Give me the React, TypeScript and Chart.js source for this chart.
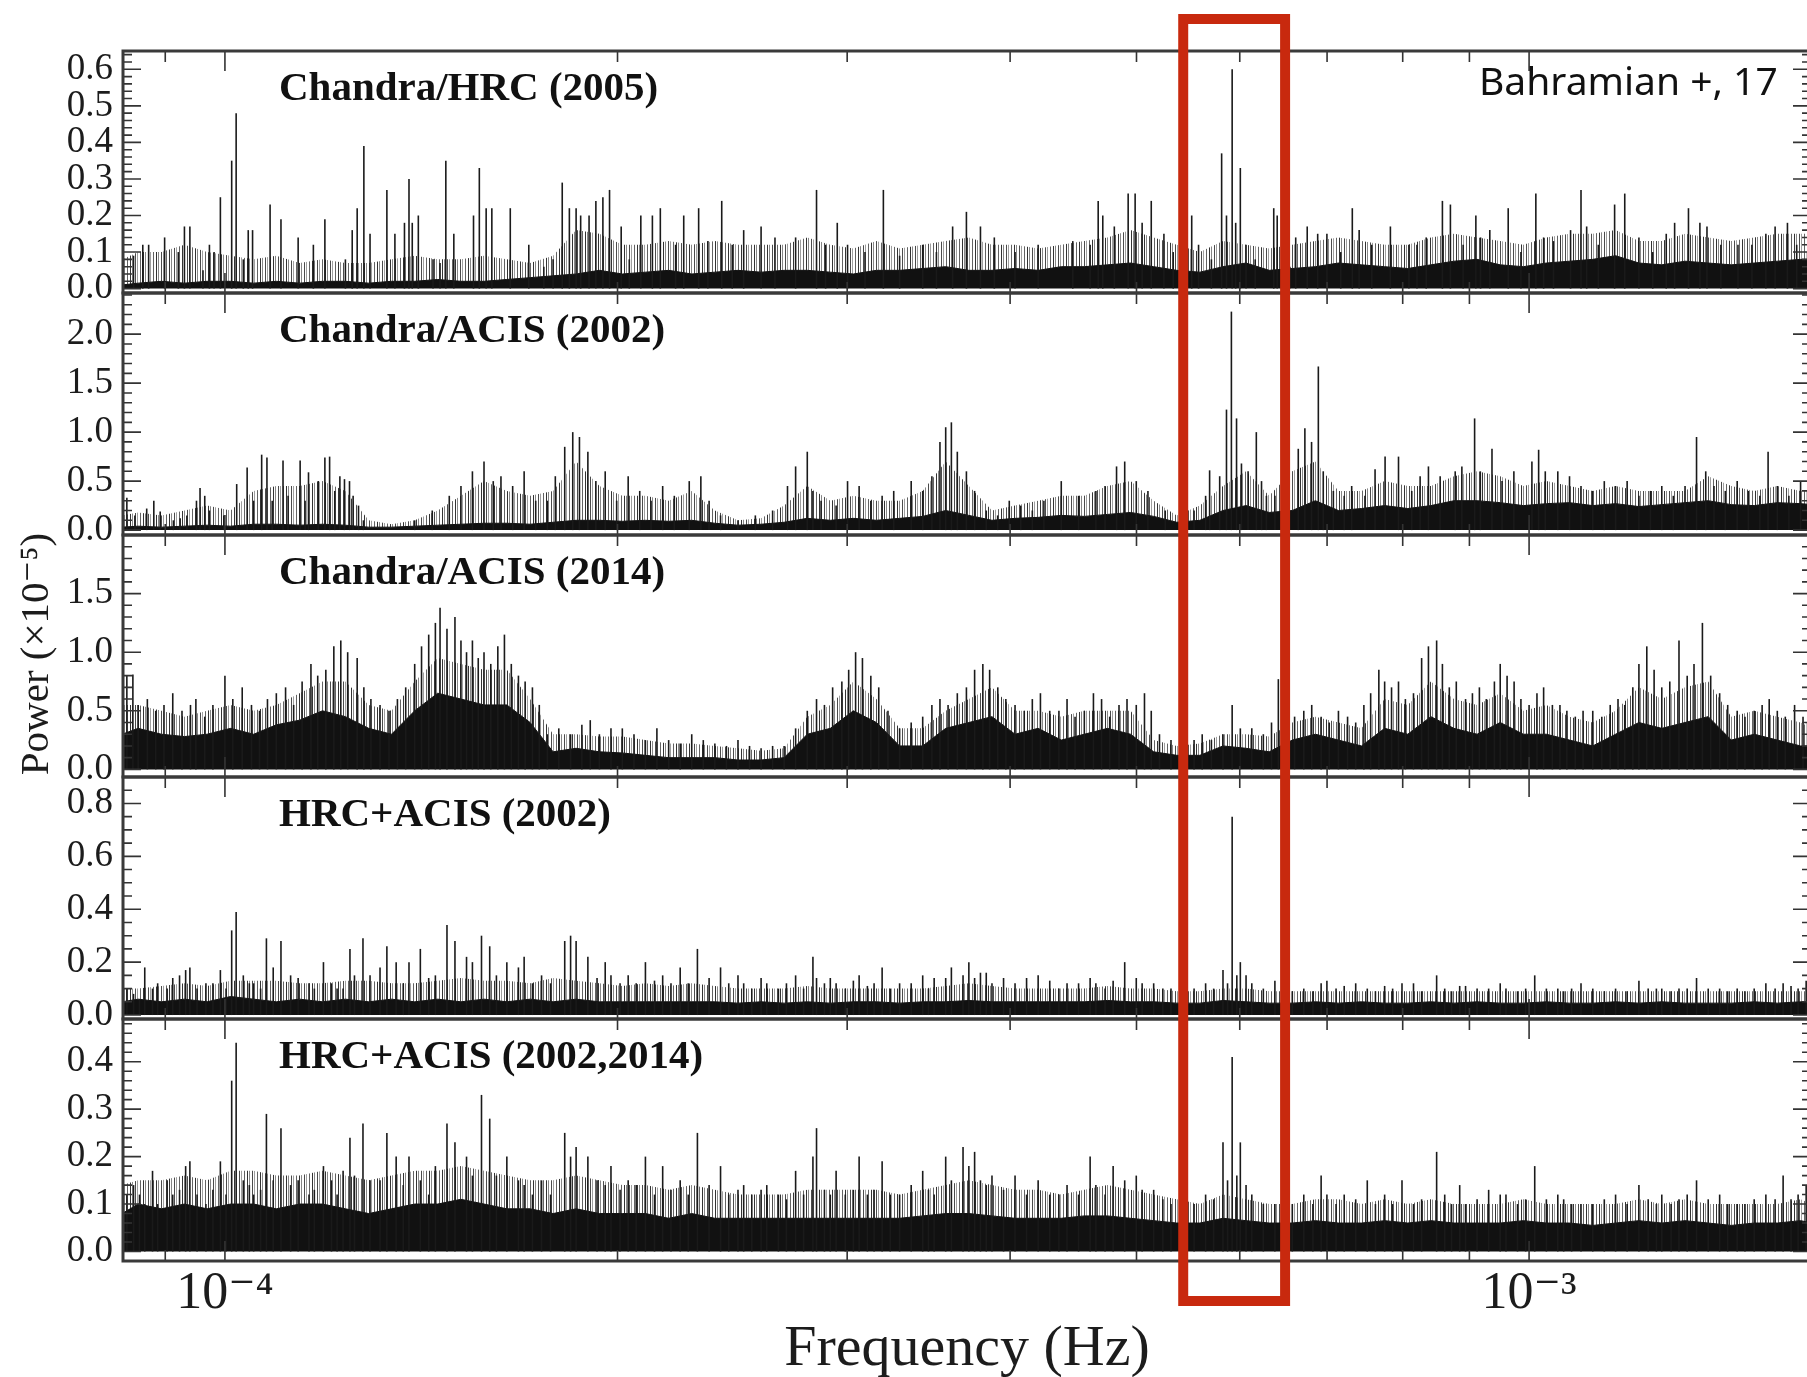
import React, { useEffect, useRef } from 'react';
import { Chart, registerables } from 'chart.js';

Chart.register(...registerables);

// Frequencies are in units of 1e-4 Hz, powers in units of 1e-5.
const FREQ_MIN = 0.8353;
const FREQ_MAX = 16.45;
const xMajorTicks = [1, 10];
const xMajorLabels = ['10⁻⁴', '10⁻³'];
const xMinorTicks = [0.9, 2, 3, 4, 5, 6, 7, 8, 9];

const panelIds = ['p1', 'p2', 'p3', 'p4', 'p5'];
const panelTitles = [
  'Chandra/HRC (2005)',
  'Chandra/ACIS (2002)',
  'Chandra/ACIS (2014)',
  'HRC+ACIS (2002)',
  'HRC+ACIS (2002,2014)',
];
const panelMin = [-0.012, -0.05, -0.065, -0.015, -0.02];
const panelMax = [0.65, 2.42, 2.0, 0.9, 0.49];
const panelMajorTicks = [
  [0, 0.1, 0.2, 0.3, 0.4, 0.5, 0.6],
  [0, 0.5, 1.0, 1.5, 2.0],
  [0, 0.5, 1.0, 1.5],
  [0, 0.2, 0.4, 0.6, 0.8],
  [0, 0.1, 0.2, 0.3, 0.4],
];
const panelMinorStep = [0.02, 0.1, 0.1, 0.05, 0.02];

// Frequency band marked around the 28-min signal
const highlightBand = [5.43, 6.5];

// Frequencies at which the envelopes of each periodogram are sampled
const floorFreq = [
  0.834, 0.858, 0.894, 0.931, 0.969, 1.010, 1.052, 1.095, 1.141, 1.188,
  1.237, 1.289, 1.342, 1.398, 1.456, 1.517, 1.580, 1.645, 1.714, 1.785,
  1.859, 1.937, 2.017, 2.101, 2.189, 2.280, 2.375, 2.474, 2.577, 2.684,
  2.796, 2.912, 3.033, 3.159, 3.291, 3.428, 3.570, 3.719, 3.874, 4.035,
  4.203, 4.378, 4.560, 4.750, 4.948, 5.154, 5.368, 5.592, 5.825, 6.067,
  6.320, 6.583, 6.857, 7.142, 7.439, 7.749, 8.072, 8.408, 8.758, 9.123,
  9.503, 9.899, 10.31, 10.74, 11.19, 11.65, 12.14, 12.64, 13.17, 13.72,
  14.29, 14.88, 15.50, 16.15, 16.48,
];

// ---- Chandra/HRC (2005)
const hrc05Floor = [
  0.01, 0.015, 0.02, 0.015, 0.02, 0.02, 0.015, 0.02, 0.015, 0.02,
  0.02, 0.015, 0.02, 0.02, 0.025, 0.02, 0.02, 0.025, 0.03, 0.035,
  0.04, 0.05, 0.04, 0.045, 0.05, 0.04, 0.045, 0.05, 0.045, 0.05,
  0.05, 0.045, 0.04, 0.05, 0.05, 0.055, 0.06, 0.05, 0.05, 0.055,
  0.05, 0.06, 0.06, 0.065, 0.07, 0.06, 0.05, 0.045, 0.06, 0.07,
  0.05, 0.055, 0.06, 0.07, 0.065, 0.06, 0.055, 0.065, 0.075, 0.08,
  0.065, 0.06, 0.07, 0.075, 0.08, 0.09, 0.07, 0.065, 0.075, 0.07,
  0.065, 0.07, 0.075, 0.08, 0.08,
];
const hrc05Band = [
  0.08, 0.10, 0.10, 0.12, 0.10, 0.09, 0.08, 0.09, 0.07, 0.08,
  0.07, 0.07, 0.08, 0.09, 0.08, 0.08, 0.09, 0.08, 0.07, 0.09,
  0.16, 0.15, 0.12, 0.12, 0.13, 0.12, 0.13, 0.12, 0.12, 0.12,
  0.14, 0.12, 0.11, 0.13, 0.11, 0.12, 0.13, 0.14, 0.12, 0.12,
  0.11, 0.12, 0.13, 0.14, 0.16, 0.14, 0.12, 0.10, 0.13, 0.12,
  0.11, 0.12, 0.13, 0.14, 0.13, 0.12, 0.12, 0.14, 0.15, 0.14,
  0.13, 0.12, 0.14, 0.15, 0.15, 0.16, 0.13, 0.13, 0.15, 0.14,
  0.13, 0.14, 0.15, 0.15, 0.15,
];
const hrc05SpikeFreq = [
  0.851, 0.865, 0.874, 0.899, 0.921, 0.931, 0.940, 0.962, 0.973, 0.981,
  0.992, 1.012, 1.020, 1.033, 1.042, 1.050, 1.083, 1.104, 1.138, 1.169,
  1.193, 1.237, 1.252, 1.263, 1.278, 1.292, 1.331, 1.350, 1.373, 1.384,
  1.392, 1.407, 1.444, 1.462, 1.477, 1.498, 1.551, 1.567, 1.586, 1.602,
  1.655, 1.710, 1.756, 1.785, 1.814, 1.837, 1.859, 1.874, 1.902, 1.925,
  1.949, 1.972, 2.013, 2.042, 2.084, 2.127, 2.157, 2.216, 2.248, 2.308,
  2.346, 2.404, 2.449, 2.499, 2.577, 2.641, 2.739, 2.842, 2.888, 2.948,
  3.002, 3.096, 3.198, 3.291, 3.428, 3.512, 3.614, 3.703, 3.796, 3.890,
  4.035, 4.203, 4.468, 4.607, 4.673, 4.711, 4.808, 4.927, 4.988, 5.050,
  5.132, 5.248, 5.335, 5.512, 5.579, 5.707, 5.811, 5.861, 5.920, 5.957,
  6.006, 6.067, 6.166, 6.371, 6.410, 6.555, 6.623, 6.759, 6.885, 6.998,
  7.171, 7.319, 7.408, 7.575, 7.828, 8.088, 8.204, 8.339, 8.581, 8.703,
  8.901, 9.103, 9.179, 9.330, 9.638, 9.857, 10.12, 10.26, 10.44, 10.76,
  10.96, 11.07, 11.30, 11.63, 11.84, 12.14, 12.44, 12.74, 12.93, 13.25,
  13.52, 13.69, 14.03, 14.46, 14.82, 15.19, 15.44, 15.78, 16.04, 16.35,
];
const hrc05SpikePower = [
  0.09, 0.12, 0.12, 0.14, 0.10, 0.17, 0.17, 0.05, 0.12, 0.10,
  0.25, 0.35, 0.48, 0.08, 0.16, 0.16, 0.23, 0.19, 0.14, 0.12,
  0.19, 0.08, 0.16, 0.22, 0.39, 0.15, 0.27, 0.15, 0.18, 0.30,
  0.18, 0.20, 0.08, 0.07, 0.35, 0.15, 0.20, 0.33, 0.22, 0.22,
  0.22, 0.12, 0.06, 0.08, 0.29, 0.22, 0.22, 0.20, 0.20, 0.24,
  0.25, 0.27, 0.17, 0.08, 0.20, 0.20, 0.22, 0.12, 0.20, 0.22,
  0.13, 0.24, 0.12, 0.16, 0.17, 0.14, 0.14, 0.27, 0.12, 0.18,
  0.12, 0.10, 0.27, 0.09, 0.12, 0.10, 0.17, 0.21, 0.17, 0.14,
  0.10, 0.12, 0.13, 0.12, 0.24, 0.20, 0.17, 0.26, 0.26, 0.18,
  0.24, 0.15, 0.10, 0.20, 0.12, 0.08, 0.37, 0.20, 0.60, 0.18,
  0.33, 0.12, 0.08, 0.22, 0.20, 0.06, 0.14, 0.17, 0.15, 0.15,
  0.10, 0.22, 0.16, 0.12, 0.17, 0.12, 0.12, 0.14, 0.24, 0.23,
  0.12, 0.20, 0.14, 0.16, 0.22, 0.10, 0.26, 0.14, 0.13, 0.16,
  0.27, 0.17, 0.12, 0.23, 0.26, 0.14, 0.10, 0.15, 0.18, 0.22,
  0.18, 0.17, 0.12, 0.12, 0.12, 0.15, 0.17, 0.18, 0.12, 0.10,
];

// ---- Chandra/ACIS (2002)
const acis02Floor = [
  0.03, 0.04, 0.03, 0.04, 0.05, 0.04, 0.06, 0.06, 0.05, 0.06,
  0.05, 0.03, 0.03, 0.04, 0.05, 0.06, 0.07, 0.07, 0.06, 0.08,
  0.10, 0.10, 0.09, 0.10, 0.09, 0.10, 0.07, 0.05, 0.06, 0.08,
  0.12, 0.10, 0.12, 0.10, 0.12, 0.14, 0.20, 0.15, 0.10, 0.12,
  0.13, 0.15, 0.14, 0.16, 0.18, 0.14, 0.08, 0.10, 0.20, 0.25,
  0.18, 0.20, 0.30, 0.20, 0.22, 0.25, 0.22, 0.25, 0.30, 0.30,
  0.28, 0.25, 0.27, 0.28, 0.25, 0.27, 0.24, 0.26, 0.28, 0.30,
  0.26, 0.25, 0.28, 0.27, 0.26,
];
const acis02Band = [
  0.15, 0.18, 0.15, 0.20, 0.25, 0.20, 0.40, 0.45, 0.45, 0.50,
  0.40, 0.10, 0.06, 0.10, 0.20, 0.35, 0.50, 0.40, 0.35, 0.40,
  0.70, 0.45, 0.35, 0.35, 0.30, 0.40, 0.20, 0.10, 0.12, 0.25,
  0.45, 0.30, 0.35, 0.30, 0.30, 0.40, 0.70, 0.45, 0.20, 0.25,
  0.30, 0.35, 0.35, 0.45, 0.50, 0.30, 0.15, 0.25, 0.45, 0.60,
  0.35, 0.60, 0.70, 0.40, 0.40, 0.50, 0.45, 0.45, 0.55, 0.60,
  0.55, 0.45, 0.50, 0.45, 0.40, 0.45, 0.40, 0.40, 0.40, 0.55,
  0.45, 0.40, 0.45, 0.40, 0.40,
];
const acis02SpikeFreq = [
  0.841, 0.853, 0.871, 0.882, 0.892, 0.913, 0.924, 0.935, 0.951, 0.957,
  0.965, 0.973, 0.998, 1.021, 1.040, 1.052, 1.067, 1.077, 1.087, 1.108,
  1.118, 1.142, 1.152, 1.159, 1.179, 1.193, 1.203, 1.214, 1.225, 1.235,
  1.246, 1.254, 1.266, 1.277, 1.398, 1.442, 1.486, 1.517, 1.548, 1.580,
  1.606, 1.628, 1.662, 1.696, 1.731, 1.767, 1.792, 1.822, 1.848, 1.870,
  1.898, 1.925, 1.957, 1.997, 2.038, 2.080, 2.122, 2.166, 2.211, 2.270,
  2.317, 2.351, 2.399, 2.474, 2.551, 2.630, 2.700, 2.739, 2.796, 2.824,
  2.865, 2.942, 3.002, 3.064, 3.128, 3.191, 3.257, 3.359, 3.428, 3.484,
  3.534, 3.570, 3.606, 3.644, 3.703, 3.757, 3.835, 3.913, 3.994, 4.076,
  4.160, 4.246, 4.378, 4.514, 4.654, 4.730, 4.827, 4.897, 4.998, 5.102,
  5.260, 5.423, 5.535, 5.649, 5.689, 5.791, 5.861, 5.912, 5.966, 6.018,
  6.089, 6.178, 6.235, 6.289, 6.384, 6.476, 6.653, 6.731, 6.811, 6.893,
  6.953, 7.078, 7.215, 7.311, 7.484, 7.619, 7.755, 7.941, 8.129, 8.250,
  8.372, 8.547, 8.777, 8.881, 9.083, 9.175, 9.366, 9.534, 9.735, 10.05,
  10.17, 10.29, 10.52, 10.74, 10.96, 11.19, 11.42, 11.65, 11.89, 12.14,
  12.39, 12.64, 12.90, 13.17, 13.44, 13.66, 13.86, 14.14, 14.44, 14.73,
  15.03, 15.25, 15.50, 15.82, 16.15, 16.35,
];
const acis02SpikePower = [
  0.33, 0.15, 0.22, 0.30, 0.19, 0.10, 0.12, 0.15, 0.30, 0.43,
  0.35, 0.20, 0.15, 0.47, 0.64, 0.30, 0.77, 0.74, 0.30, 0.71,
  0.35, 0.71, 0.30, 0.59, 0.50, 0.74, 0.75, 0.40, 0.55, 0.52,
  0.50, 0.35, 0.25, 0.10, 0.10, 0.20, 0.35, 0.45, 0.60, 0.70,
  0.50, 0.55, 0.45, 0.60, 0.30, 0.30, 0.55, 0.85, 1.00, 0.95,
  0.80, 0.50, 0.60, 0.30, 0.55, 0.40, 0.30, 0.45, 0.35, 0.50,
  0.55, 0.30, 0.15, 0.10, 0.15, 0.20, 0.45, 0.65, 0.80, 0.40,
  0.30, 0.25, 0.50, 0.45, 0.30, 0.35, 0.40, 0.50, 0.40, 0.55,
  0.90, 1.05, 1.10, 0.80, 0.60, 0.40, 0.20, 0.15, 0.30, 0.25,
  0.20, 0.30, 0.50, 0.35, 0.40, 0.45, 0.65, 0.70, 0.50, 0.40,
  0.20, 0.10, 0.20, 0.35, 0.61, 0.55, 1.23, 2.23, 1.14, 0.68,
  0.60, 1.00, 0.50, 0.35, 0.35, 0.30, 0.83, 1.04, 0.90, 1.67,
  0.60, 0.40, 0.35, 0.45, 0.35, 0.62, 0.75, 0.75, 0.40, 0.55,
  0.65, 0.55, 0.60, 0.65, 1.14, 0.60, 0.83, 0.50, 0.60, 0.70,
  0.82, 0.60, 0.60, 0.55, 0.45, 0.40, 0.50, 0.45, 0.50, 0.35,
  0.40, 0.45, 0.35, 0.45, 0.95, 0.60, 0.45, 0.40, 0.50, 0.40,
  0.35, 0.80, 0.45, 0.35, 0.50, 0.40,
];

// ---- Chandra/ACIS (2014)
const acis14Floor = [
  0.30, 0.35, 0.30, 0.28, 0.30, 0.35, 0.30, 0.38, 0.42, 0.50,
  0.45, 0.35, 0.30, 0.50, 0.65, 0.60, 0.55, 0.55, 0.40, 0.15,
  0.18, 0.15, 0.14, 0.12, 0.10, 0.10, 0.10, 0.08, 0.08, 0.10,
  0.30, 0.35, 0.50, 0.40, 0.20, 0.20, 0.35, 0.40, 0.45, 0.30,
  0.35, 0.25, 0.30, 0.35, 0.30, 0.15, 0.12, 0.12, 0.20, 0.18,
  0.15, 0.25, 0.30, 0.25, 0.20, 0.35, 0.30, 0.45, 0.35, 0.30,
  0.40, 0.30, 0.30, 0.25, 0.20, 0.30, 0.40, 0.35, 0.40, 0.45,
  0.25, 0.30, 0.25, 0.20, 0.20,
];
const acis14Band = [
  0.55, 0.55, 0.50, 0.45, 0.50, 0.55, 0.50, 0.55, 0.65, 0.75,
  0.75, 0.55, 0.50, 0.75, 0.95, 0.90, 0.85, 0.85, 0.60, 0.30,
  0.30, 0.28, 0.28, 0.25, 0.22, 0.22, 0.20, 0.18, 0.16, 0.18,
  0.45, 0.55, 0.75, 0.60, 0.35, 0.35, 0.50, 0.60, 0.70, 0.50,
  0.50, 0.45, 0.50, 0.50, 0.50, 0.25, 0.20, 0.22, 0.30, 0.30,
  0.28, 0.40, 0.45, 0.40, 0.35, 0.60, 0.55, 0.75, 0.60, 0.55,
  0.65, 0.50, 0.55, 0.45, 0.40, 0.50, 0.70, 0.60, 0.70, 0.75,
  0.45, 0.50, 0.45, 0.40, 0.35,
];
const acis14SpikeFreq = [
  0.841, 0.850, 0.858, 0.872, 0.885, 0.898, 0.912, 0.927, 0.941, 0.950,
  0.965, 0.979, 1.000, 1.014, 1.031, 1.048, 1.063, 1.078, 1.095, 1.113,
  1.129, 1.146, 1.164, 1.178, 1.195, 1.212, 1.227, 1.242, 1.263, 1.278,
  1.294, 1.315, 1.336, 1.356, 1.376, 1.398, 1.415, 1.433, 1.450, 1.462,
  1.480, 1.501, 1.517, 1.532, 1.548, 1.564, 1.580, 1.599, 1.619, 1.638,
  1.658, 1.679, 1.699, 1.721, 1.742, 1.767, 1.803, 1.841, 1.878, 1.906,
  1.937, 1.977, 2.017, 2.059, 2.101, 2.144, 2.189, 2.234, 2.280, 2.327,
  2.375, 2.424, 2.474, 2.525, 2.577, 2.630, 2.684, 2.739, 2.796, 2.842,
  2.882, 2.924, 2.972, 3.008, 3.045, 3.082, 3.128, 3.172, 3.224, 3.291,
  3.359, 3.428, 3.484, 3.534, 3.585, 3.644, 3.703, 3.757, 3.812, 3.858,
  3.914, 3.970, 4.035, 4.101, 4.160, 4.220, 4.290, 4.360, 4.423, 4.486,
  4.560, 4.634, 4.701, 4.769, 4.848, 4.917, 4.998, 5.071, 5.132, 5.207,
  5.314, 5.423, 5.535, 5.615, 5.707, 5.825, 5.920, 6.006, 6.129, 6.255,
  6.346, 6.423, 6.516, 6.610, 6.718, 6.813, 6.927, 7.027, 7.142, 7.258,
  7.363, 7.470, 7.560, 7.670, 7.749, 7.844, 7.941, 8.038, 8.154, 8.272,
  8.372, 8.494, 8.581, 8.686, 8.794, 8.939, 9.048, 9.160, 9.272, 9.406,
  9.503, 9.619, 9.739, 9.857, 10.00, 10.14, 10.26, 10.42, 10.56, 10.69,
  10.85, 11.00, 11.19, 11.37, 11.54, 11.70, 11.84, 12.01, 12.14, 12.31,
  12.47, 12.64, 12.82, 13.03, 13.22, 13.38, 13.58, 13.78, 14.00, 14.20,
  14.44, 14.64, 14.88, 15.09, 15.28, 15.50, 15.72, 15.98, 16.22, 16.35,
];
const acis14SpikePower = [
  0.80, 0.81, 0.55, 0.60, 0.50, 0.55, 0.65, 0.50, 0.55, 0.60,
  0.45, 0.55, 0.80, 0.60, 0.70, 0.55, 0.50, 0.60, 0.65, 0.70,
  0.55, 0.75, 0.90, 0.80, 0.85, 1.05, 1.10, 1.00, 0.95, 0.70,
  0.60, 0.55, 0.50, 0.60, 0.70, 0.90, 1.05, 1.15, 1.25, 1.38,
  1.20, 1.30, 1.10, 1.00, 1.10, 0.95, 1.00, 0.90, 1.05, 1.15,
  0.90, 0.80, 0.75, 0.70, 0.55, 0.30, 0.35, 0.30, 0.38, 0.42,
  0.30, 0.35, 0.35, 0.30, 0.25, 0.35, 0.25, 0.22, 0.30, 0.25,
  0.22, 0.20, 0.25, 0.20, 0.18, 0.20, 0.20, 0.35, 0.50, 0.60,
  0.55, 0.70, 0.75, 0.85, 1.00, 0.95, 0.80, 0.70, 0.50, 0.35,
  0.40, 0.45, 0.55, 0.60, 0.55, 0.65, 0.70, 0.85, 0.90, 0.85,
  0.70, 0.60, 0.55, 0.50, 0.60, 0.65, 0.50, 0.50, 0.60, 0.45,
  0.50, 0.65, 0.60, 0.45, 0.55, 0.60, 0.55, 0.65, 0.50, 0.30,
  0.25, 0.20, 0.25, 0.30, 0.25, 0.30, 0.55, 0.35, 0.35, 0.30,
  0.40, 0.77, 0.45, 0.45, 0.50, 0.55, 0.45, 0.40, 0.50, 0.45,
  0.40, 0.55, 0.65, 0.85, 0.75, 0.70, 0.75, 0.60, 0.65, 0.95,
  1.05, 1.10, 0.90, 0.70, 0.75, 0.60, 0.65, 0.70, 0.60, 0.75,
  0.90, 0.80, 0.75, 0.60, 0.55, 0.65, 0.70, 0.55, 0.55, 0.50,
  0.45, 0.50, 0.50, 0.45, 0.55, 0.60, 0.55, 0.70, 0.90, 1.05,
  0.85, 0.70, 0.75, 1.10, 0.80, 0.90, 1.25, 0.80, 0.65, 0.55,
  0.50, 0.45, 0.50, 0.55, 0.60, 0.50, 0.45, 0.55, 0.45, 0.40,
];

// ---- HRC+ACIS combined periodograms (same frequency sampling)
const hrcAcisSpikeFreq = [
  0.841, 0.851, 0.860, 0.868, 0.880, 0.888, 0.903, 0.912, 0.923, 0.933,
  0.940, 0.952, 0.967, 0.979, 0.992, 1.002, 1.012, 1.020, 1.033, 1.044,
  1.052, 1.065, 1.076, 1.089, 1.104, 1.123, 1.138, 1.160, 1.171, 1.190,
  1.207, 1.219, 1.232, 1.247, 1.257, 1.276, 1.292, 1.315, 1.331, 1.353,
  1.370, 1.384, 1.412, 1.433, 1.450, 1.480, 1.501, 1.532, 1.548, 1.573,
  1.596, 1.615, 1.645, 1.679, 1.696, 1.721, 1.749, 1.777, 1.822, 1.841,
  1.859, 1.898, 1.929, 1.957, 1.977, 2.009, 2.038, 2.067, 2.101, 2.135,
  2.166, 2.198, 2.234, 2.266, 2.303, 2.351, 2.399, 2.434, 2.474, 2.499,
  2.535, 2.577, 2.603, 2.657, 2.695, 2.739, 2.778, 2.824, 2.842, 2.882,
  2.912, 2.942, 2.990, 3.033, 3.064, 3.109, 3.146, 3.191, 3.237, 3.291,
  3.359, 3.428, 3.463, 3.498, 3.570, 3.606, 3.681, 3.719, 3.757, 3.796,
  3.835, 3.874, 3.954, 4.035, 4.118, 4.203, 4.290, 4.360, 4.423, 4.514,
  4.607, 4.654, 4.730, 4.798, 4.897, 4.998, 5.050, 5.154, 5.238, 5.314,
  5.423, 5.535, 5.649, 5.730, 5.825, 5.872, 5.920, 5.969, 6.006, 6.067,
  6.129, 6.255, 6.384, 6.476, 6.583, 6.718, 6.827, 6.927, 6.998, 7.112,
  7.215, 7.363, 7.515, 7.624, 7.749, 7.859, 7.990, 8.154, 8.272, 8.494,
  8.616, 8.721, 8.847, 8.939, 9.123, 9.311, 9.503, 9.600, 9.798, 9.940,
  10.10, 10.31, 10.52, 10.63, 10.78, 10.96, 11.19, 11.42, 11.65, 11.89,
  12.14, 12.34, 12.52, 12.64, 12.85, 13.03, 13.22, 13.44, 13.72, 14.00,
  14.20, 14.44, 14.64, 14.88, 15.19, 15.44, 15.66, 15.88, 16.08, 16.31,
];

// ---- HRC+ACIS (2002)
const hrcAcis02Floor = [
  0.05, 0.06, 0.05, 0.06, 0.05, 0.07, 0.06, 0.05, 0.06, 0.05,
  0.06, 0.05, 0.06, 0.05, 0.06, 0.05, 0.06, 0.05, 0.06, 0.05,
  0.06, 0.05, 0.05, 0.05, 0.05, 0.05, 0.05, 0.045, 0.05, 0.045,
  0.05, 0.045, 0.05, 0.05, 0.045, 0.05, 0.05, 0.055, 0.05, 0.05,
  0.05, 0.05, 0.05, 0.055, 0.05, 0.05, 0.045, 0.045, 0.055, 0.05,
  0.045, 0.045, 0.05, 0.045, 0.05, 0.045, 0.045, 0.05, 0.045, 0.05,
  0.045, 0.045, 0.05, 0.045, 0.045, 0.05, 0.045, 0.05, 0.045, 0.045,
  0.045, 0.05, 0.045, 0.05, 0.05,
];
const hrcAcis02Band = [
  0.10, 0.10, 0.11, 0.12, 0.11, 0.13, 0.13, 0.13, 0.12, 0.12,
  0.13, 0.13, 0.12, 0.12, 0.13, 0.14, 0.13, 0.13, 0.12, 0.14,
  0.13, 0.12, 0.11, 0.12, 0.11, 0.12, 0.11, 0.10, 0.10, 0.10,
  0.11, 0.10, 0.10, 0.10, 0.10, 0.10, 0.11, 0.12, 0.11, 0.10,
  0.10, 0.10, 0.10, 0.11, 0.10, 0.10, 0.09, 0.09, 0.10, 0.10,
  0.09, 0.09, 0.09, 0.09, 0.09, 0.09, 0.09, 0.09, 0.09, 0.09,
  0.09, 0.09, 0.09, 0.09, 0.09, 0.09, 0.09, 0.09, 0.09, 0.09,
  0.09, 0.09, 0.09, 0.09, 0.09,
];
const hrcAcis02SpikePower = [
  0.10, 0.08, 0.06, 0.18, 0.10, 0.12, 0.10, 0.14, 0.15, 0.17,
  0.18, 0.10, 0.12, 0.12, 0.17, 0.10, 0.32, 0.39, 0.15, 0.12,
  0.12, 0.10, 0.29, 0.18, 0.28, 0.15, 0.14, 0.12, 0.10, 0.20,
  0.12, 0.10, 0.10, 0.25, 0.15, 0.29, 0.15, 0.18, 0.26, 0.20,
  0.12, 0.20, 0.25, 0.14, 0.15, 0.34, 0.28, 0.22, 0.20, 0.30,
  0.26, 0.15, 0.20, 0.18, 0.22, 0.12, 0.15, 0.12, 0.28, 0.30,
  0.28, 0.22, 0.14, 0.20, 0.15, 0.12, 0.15, 0.12, 0.20, 0.13,
  0.15, 0.12, 0.18, 0.12, 0.25, 0.14, 0.18, 0.12, 0.15, 0.12,
  0.10, 0.14, 0.12, 0.10, 0.12, 0.15, 0.10, 0.22, 0.14, 0.12,
  0.14, 0.12, 0.10, 0.13, 0.15, 0.11, 0.12, 0.18, 0.10, 0.12,
  0.12, 0.15, 0.10, 0.14, 0.14, 0.18, 0.15, 0.20, 0.14, 0.16,
  0.16, 0.12, 0.14, 0.12, 0.14, 0.15, 0.13, 0.10, 0.12, 0.12,
  0.14, 0.12, 0.10, 0.13, 0.20, 0.14, 0.12, 0.12, 0.10, 0.10,
  0.08, 0.10, 0.12, 0.10, 0.17, 0.12, 0.75, 0.15, 0.20, 0.15,
  0.12, 0.10, 0.13, 0.10, 0.09, 0.10, 0.09, 0.12, 0.13, 0.10,
  0.11, 0.12, 0.10, 0.09, 0.11, 0.10, 0.12, 0.12, 0.09, 0.15,
  0.10, 0.09, 0.11, 0.11, 0.10, 0.10, 0.12, 0.10, 0.09, 0.10,
  0.15, 0.10, 0.10, 0.09, 0.10, 0.12, 0.10, 0.09, 0.10, 0.09,
  0.13, 0.10, 0.10, 0.10, 0.09, 0.10, 0.10, 0.14, 0.10, 0.10,
  0.09, 0.10, 0.09, 0.10, 0.12, 0.10, 0.12, 0.11, 0.10, 0.13,
];

// ---- HRC+ACIS (2002,2014)
const hrcAcis0214Floor = [
  0.08, 0.10, 0.09, 0.10, 0.09, 0.10, 0.10, 0.09, 0.10, 0.10,
  0.09, 0.08, 0.09, 0.10, 0.10, 0.11, 0.10, 0.09, 0.09, 0.08,
  0.09, 0.08, 0.08, 0.08, 0.07, 0.08, 0.07, 0.07, 0.07, 0.07,
  0.07, 0.07, 0.07, 0.07, 0.07, 0.075, 0.08, 0.08, 0.075, 0.07,
  0.07, 0.07, 0.075, 0.075, 0.07, 0.065, 0.06, 0.06, 0.07, 0.065,
  0.06, 0.06, 0.065, 0.06, 0.06, 0.065, 0.06, 0.065, 0.06, 0.06,
  0.06, 0.065, 0.06, 0.06, 0.055, 0.06, 0.065, 0.06, 0.065, 0.06,
  0.055, 0.06, 0.06, 0.065, 0.06,
];
const hrcAcis0214Band = [
  0.14, 0.15, 0.15, 0.16, 0.15, 0.17, 0.17, 0.16, 0.16, 0.17,
  0.16, 0.15, 0.16, 0.17, 0.17, 0.18, 0.17, 0.16, 0.15, 0.15,
  0.16, 0.15, 0.14, 0.14, 0.13, 0.14, 0.13, 0.12, 0.12, 0.12,
  0.13, 0.13, 0.13, 0.13, 0.12, 0.13, 0.14, 0.15, 0.14, 0.13,
  0.13, 0.12, 0.13, 0.14, 0.13, 0.12, 0.11, 0.10, 0.12, 0.11,
  0.10, 0.10, 0.11, 0.11, 0.10, 0.11, 0.10, 0.11, 0.10, 0.10,
  0.10, 0.11, 0.10, 0.10, 0.10, 0.10, 0.11, 0.10, 0.11, 0.10,
  0.10, 0.10, 0.10, 0.11, 0.10,
];
const hrcAcis0214SpikePower = [
  0.12, 0.14, 0.12, 0.10, 0.17, 0.10, 0.15, 0.12, 0.13, 0.18,
  0.19, 0.12, 0.10, 0.13, 0.19, 0.12, 0.36, 0.44, 0.15, 0.14,
  0.12, 0.13, 0.29, 0.15, 0.26, 0.14, 0.15, 0.12, 0.13, 0.18,
  0.15, 0.12, 0.17, 0.24, 0.16, 0.27, 0.15, 0.15, 0.25, 0.20,
  0.14, 0.20, 0.15, 0.12, 0.18, 0.27, 0.23, 0.20, 0.16, 0.33,
  0.28, 0.16, 0.20, 0.15, 0.14, 0.12, 0.15, 0.12, 0.25, 0.20,
  0.22, 0.20, 0.15, 0.14, 0.18, 0.13, 0.15, 0.14, 0.20, 0.12,
  0.18, 0.13, 0.15, 0.12, 0.25, 0.14, 0.18, 0.12, 0.13, 0.14,
  0.12, 0.13, 0.14, 0.12, 0.11, 0.17, 0.12, 0.20, 0.26, 0.13,
  0.12, 0.17, 0.12, 0.13, 0.20, 0.12, 0.13, 0.19, 0.12, 0.12,
  0.14, 0.17, 0.13, 0.12, 0.20, 0.15, 0.22, 0.18, 0.21, 0.15,
  0.14, 0.16, 0.13, 0.16, 0.12, 0.15, 0.12, 0.12, 0.14, 0.12,
  0.20, 0.14, 0.12, 0.18, 0.15, 0.16, 0.13, 0.13, 0.11, 0.10,
  0.09, 0.10, 0.12, 0.11, 0.23, 0.15, 0.41, 0.16, 0.23, 0.14,
  0.12, 0.10, 0.10, 0.09, 0.10, 0.12, 0.10, 0.16, 0.12, 0.10,
  0.12, 0.11, 0.15, 0.10, 0.12, 0.10, 0.15, 0.10, 0.11, 0.21,
  0.12, 0.10, 0.14, 0.10, 0.11, 0.13, 0.12, 0.12, 0.10, 0.11,
  0.18, 0.11, 0.12, 0.11, 0.10, 0.10, 0.10, 0.11, 0.12, 0.10,
  0.14, 0.11, 0.10, 0.12, 0.10, 0.11, 0.12, 0.15, 0.11, 0.12,
  0.10, 0.10, 0.10, 0.11, 0.12, 0.11, 0.16, 0.11, 0.12, 0.14,
];

const panelFloors = [hrc05Floor, acis02Floor, acis14Floor, hrcAcis02Floor, hrcAcis0214Floor];
const panelBands = [hrc05Band, acis02Band, acis14Band, hrcAcis02Band, hrcAcis0214Band];
const panelSpikeFreqs = [hrc05SpikeFreq, acis02SpikeFreq, acis14SpikeFreq, hrcAcisSpikeFreq, hrcAcisSpikeFreq];
const panelSpikePowers = [hrc05SpikePower, acis02SpikePower, acis14SpikePower, hrcAcis02SpikePower, hrcAcis0214SpikePower];

const SERIF = '"Liberation Serif", "DejaVu Serif", serif';
const INK = '#1c1c1c';

// Fine, slightly irregular vertical hatching for the band of densely packed peaks
function makeHatch(): CanvasPattern | string {
  const fallback = 'rgba(20,20,20,0.5)';
  const tile = document.createElement('canvas');
  tile.width = 13;
  tile.height = 4;
  const c = tile.getContext('2d');
  if (!c) return fallback;
  const cols: [number, number][] = [[0, 0.85], [2, 0.5], [5, 0.75], [7, 0.4], [10, 0.65]];
  cols.forEach(([x, a]) => {
    c.fillStyle = `rgba(15,15,15,${a})`;
    c.fillRect(x, 0, 1, 4);
  });
  return c.createPattern(tile, 'repeat') || fallback;
}

const panelDecor = {
  id: 'panelDecor',
  afterDraw(chart: any) {
    const { ctx, chartArea, scales } = chart;
    const xs = scales.x;
    const left = chartArea.left;
    const right = chartArea.right;
    ctx.save();
    panelIds.forEach((id, i) => {
      const ys = scales[id];
      const top = ys.top;
      const bottom = ys.bottom;
      ctx.strokeStyle = '#333';
      ctx.lineWidth = 1.6;
      ctx.beginPath();
      // y ticks, left and right, pointing inward
      const majors = panelMajorTicks[i];
      majors.forEach((v) => {
        const py = ys.getPixelForValue(v);
        ctx.moveTo(left, py); ctx.lineTo(left + 18, py);
        ctx.moveTo(right, py); ctx.lineTo(right - 18, py);
      });
      const step = panelMinorStep[i];
      const first = Math.ceil(panelMin[i] / step - 1e-6);
      const last = Math.floor(panelMax[i] / step + 1e-6);
      for (let k = first; k <= last; k++) {
        const v = k * step;
        if (majors.some((m) => Math.abs(m - v) < 1e-6)) continue;
        const py = ys.getPixelForValue(v);
        ctx.moveTo(left, py); ctx.lineTo(left + 9, py);
        ctx.moveTo(right, py); ctx.lineTo(right - 9, py);
      }
      // x ticks on the top and bottom edges of each panel
      xMajorTicks.forEach((v) => {
        const px = xs.getPixelForValue(v);
        ctx.moveTo(px, top); ctx.lineTo(px, top + 20);
        ctx.moveTo(px, bottom); ctx.lineTo(px, bottom - 20);
      });
      xMinorTicks.forEach((v) => {
        const px = xs.getPixelForValue(v);
        ctx.moveTo(px, top); ctx.lineTo(px, top + 11);
        ctx.moveTo(px, bottom); ctx.lineTo(px, bottom - 11);
      });
      ctx.stroke();
      // panel frame
      ctx.lineWidth = 3;
      ctx.strokeStyle = '#3a3a3a';
      ctx.strokeRect(left, top, right - left, bottom - top);
      // panel title
      ctx.fillStyle = '#111';
      ctx.font = `bold 41px ${SERIF}`;
      ctx.textAlign = 'left';
      ctx.textBaseline = 'middle';
      ctx.fillText(panelTitles[i], left + 156, top + 38);
    });

    // shared y-axis title
    ctx.save();
    ctx.translate(37, 654);
    ctx.rotate(-Math.PI / 2);
    ctx.font = `41px ${SERIF}`;
    ctx.fillStyle = INK;
    ctx.textAlign = 'center';
    ctx.textBaseline = 'middle';
    ctx.fillText('Power (×10⁻⁵)', 0, 0);
    ctx.restore();

    // reference note
    ctx.font = '39px "Noto Sans", sans-serif';
    ctx.fillStyle = '#111';
    ctx.textAlign = 'left';
    ctx.textBaseline = 'middle';
    ctx.fillText('Bahramian +, 17', 1479, 84);

    // highlighted frequency band
    const bx0 = xs.getPixelForValue(highlightBand[0]);
    const bx1 = xs.getPixelForValue(highlightBand[1]);
    ctx.strokeStyle = '#c8290e';
    ctx.lineWidth = 10;
    ctx.strokeRect(bx0, 19, bx1 - bx0, 1301 - 19);
    ctx.restore();
  },
};

export default function App() {
  const canvasRef = useRef<HTMLCanvasElement>(null);

  useEffect(() => {
    const canvas = canvasRef.current;
    if (!canvas) return;
    const hatch = makeHatch();

    const datasets: any[] = [];
    panelIds.forEach((id, i) => {
      datasets.push({
        type: 'line',
        data: floorFreq.map((f, k) => ({ x: f, y: panelFloors[i][k] })),
        yAxisID: id,
        borderColor: '#111',
        borderWidth: 1,
        backgroundColor: '#111',
        fill: 'origin',
        pointRadius: 0,
        tension: 0,
        order: 3,
      });
      datasets.push({
        type: 'line',
        data: floorFreq.map((f, k) => ({ x: f, y: panelBands[i][k] })),
        yAxisID: id,
        borderWidth: 0,
        borderColor: 'rgba(0,0,0,0)',
        backgroundColor: hatch,
        fill: '-1',
        pointRadius: 0,
        tension: 0,
        order: 2,
      });
      datasets.push({
        type: 'bar',
        data: panelSpikeFreqs[i].map((f, k) => ({ x: f, y: panelSpikePowers[i][k] })),
        yAxisID: id,
        backgroundColor: '#1a1a1a',
        barThickness: 1.6,
        inflateAmount: 0,
        stack: 'spikes',
        order: 1,
      });
    });

    const yScales: any = {};
    panelIds.forEach((id, i) => {
      yScales[id] = {
        type: 'linear',
        position: 'left',
        stack: 'panels',
        stackWeight: 1,
        weight: panelIds.length - i,
        offset: false,
        min: panelMin[i],
        max: panelMax[i],
        grid: { display: false, drawTicks: false },
        border: { display: false },
        afterBuildTicks: (s: any) => {
          s.ticks = panelMajorTicks[i].map((v) => ({ value: v }));
        },
        afterFit: (s: any) => {
          s.width = 115;
        },
        ticks: {
          autoSkip: false,
          padding: 10,
          color: INK,
          font: { family: SERIF, size: 37 },
          callback: (v: any) => Number(v).toFixed(1),
        },
      };
    });

    const chart = new Chart(canvas, {
      type: 'bar',
      data: { datasets },
      options: {
        responsive: false,
        animation: false,
        events: [],
        layout: { padding: { left: 8, right: 0, top: 51, bottom: 0 } },
        plugins: { legend: { display: false }, tooltip: { enabled: false } },
        scales: {
          x: {
            type: 'logarithmic',
            min: FREQ_MIN,
            max: FREQ_MAX,
            offset: false,
            grid: { display: false, drawTicks: false },
            border: { display: false },
            afterBuildTicks: (s: any) => {
              s.ticks = xMajorTicks.map((v) => ({ value: v }));
            },
            afterFit: (s: any) => {
              s.height = 116;
              s.paddingLeft = 0;
              s.paddingRight = 0;
            },
            ticks: {
              autoSkip: false,
              maxRotation: 0,
              padding: 2,
              color: INK,
              font: { family: SERIF, size: 52 },
              callback: (v: any) => {
                const idx = xMajorTicks.indexOf(Number(v));
                return idx >= 0 ? xMajorLabels[idx] : '';
              },
            },
            title: {
              display: true,
              text: 'Frequency (Hz)',
              color: INK,
              font: { family: SERIF, size: 58, lineHeight: 0.9 },
              padding: { top: 0, bottom: 1 },
            },
          },
          ...yScales,
        },
      } as any,
      plugins: [panelDecor],
    });

    return () => chart.destroy();
  }, []);

  return (
    <div
      style={{
        position: 'absolute',
        left: 0,
        top: 0,
        width: 1807,
        height: 1377,
        overflow: 'hidden',
        background: '#fff',
      }}
    >
      <canvas ref={canvasRef} width={1811} height={1377} style={{ display: 'block' }} />
    </div>
  );
}
